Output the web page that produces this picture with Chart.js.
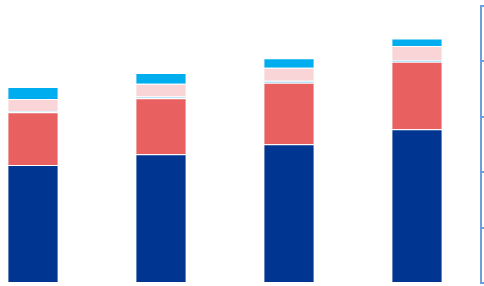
<!DOCTYPE html>
<html>
<head>
<meta charset="utf-8">
<script src="https://cdn.jsdelivr.net/npm/chart.js@4/dist/chart.umd.min.js"></script>
<style>
  html, body { margin: 0; padding: 0; background: #fff; overflow: hidden; }
  body { width: 484px; height: 286px; position: relative; }
  #wrap { position: absolute; left: -31px; top: 0; width: 520px; height: 286px; }
</style>
</head>
<body>
<div id="wrap"><canvas id="stackChart"></canvas></div>
<script>
// categories (labels are cropped out of the picture)
const categories = ['1', '2', '3', '4'];

// stacked series, bottom to top
const baseValues = [42.6, 46.5, 50.1, 55.5];
const secondValues = [19.0, 20.2, 22.2, 24.4];
const thinValues = [0.5, 0.6, 0.7, 0.6];
const pinkValues = [4.3, 4.6, 4.7, 5.1];
const topValues = [4.4, 3.9, 3.4, 2.7];

// right axis ticks
const yMin = 0;
const yMax = 100;
const yStep = 20;

const edge = 'rgba(255,255,255,0.35)';

function series(data, color) {
  return {
    data: data,
    backgroundColor: color,
    borderColor: edge,
    borderWidth: 1,
    categoryPercentage: 1,
    barPercentage: 0.4
  };
}

const config = {
  type: 'bar',
  data: {
    labels: categories,
    datasets: [
      series(baseValues, '#003591'),
      series(secondValues, '#e86060'),
      series(thinValues, '#86cff2'),
      series(pinkValues, '#f9d5d8'),
      series(topValues, '#00adee')
    ]
  },
  options: {
    responsive: true,
    maintainAspectRatio: false,
    animation: false,
    layout: { padding: { top: 6, bottom: 3, left: 0, right: 0 } },
    plugins: { legend: { display: false }, tooltip: { enabled: false } },
    scales: {
      x: { stacked: true, display: false },
      y: {
        stacked: true,
        position: 'right',
        min: yMin,
        max: yMax,
        ticks: { stepSize: yStep, display: false },
        border: { display: true, color: '#6f9fd9', width: 2 },
        grid: { drawOnChartArea: false, drawTicks: true, tickLength: 8, color: '#6f9fd9', lineWidth: 2 }
      }
    }
  }
};

new Chart(document.getElementById('stackChart').getContext('2d'), config);
</script>
</body>
</html>
